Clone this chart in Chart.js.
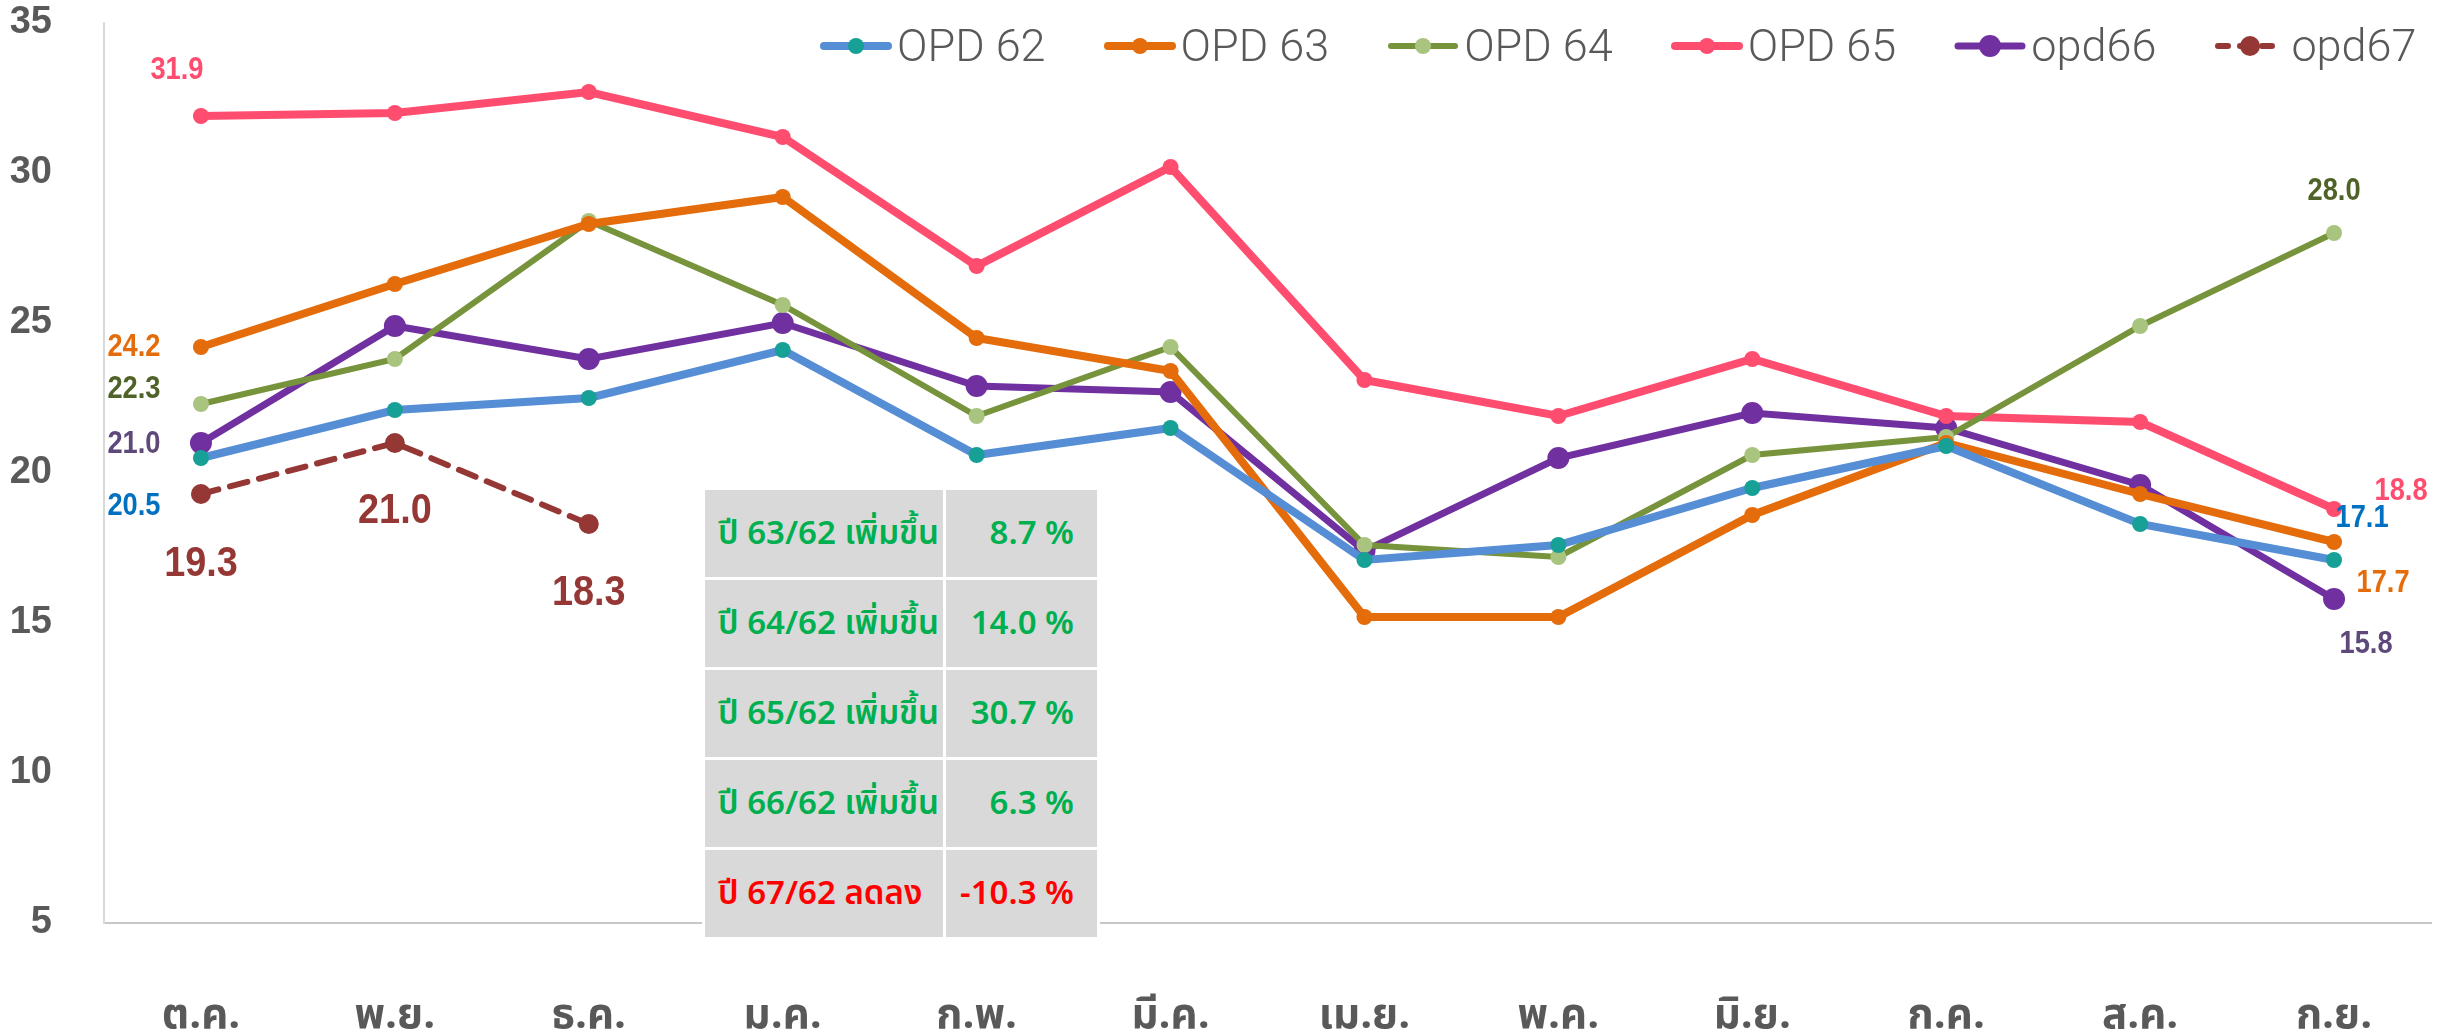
<!DOCTYPE html>
<html>
<head>
<meta charset="utf-8">
<title>OPD</title>
<script src="https://cdn.jsdelivr.net/npm/chart.js@4.4.1/dist/chart.umd.min.js"></script>
<style>
  html, body { margin: 0; padding: 0; background: #fff; }
  #wrap { position: relative; width: 2445px; height: 1031px; overflow: hidden; }
  #chart { display: block; }
  .legend { position: absolute; top: 19px; left: 820px; display: flex; align-items: center; gap: 58px; white-space: nowrap;
            font-family: Roboto, "Liberation Sans", sans-serif; font-weight: 300; font-size: 45px; color: #595959; }
  .legend__item { display: flex; align-items: center; gap: 5px; }
  .rates { position: absolute; left: 702px; top: 487px; border-collapse: separate; border-spacing: 3px; background: #fff;
           font-family: "Noto Sans Thai", "Noto Sans", sans-serif; font-size: 33px; font-weight: 600; white-space: nowrap; }
  .rates td { background: #d9d9d9; height: 87px; padding: 0; }
  .rates td.name { width: 225px; padding-left: 13px; }
  .rates td.pct { width: 128px; padding-right: 23px; text-align: right; }
</style>
</head>
<body>
<div id="wrap">
  <canvas id="chart" width="2445" height="1031"></canvas>
  <div class="legend" id="legend"></div>
  <table class="rates" id="rates"></table>
</div>
<script>
// months (fiscal year order)
const months = ['ต.ค.', 'พ.ย.', 'ธ.ค.', 'ม.ค.', 'ก.พ.', 'มี.ค.', 'เม.ย.', 'พ.ค.', 'มิ.ย.', 'ก.ค.', 'ส.ค.', 'ก.ย.'];

const opd62 = [20.5, 22.1, 22.5, 24.1, 20.6, 21.5, 17.1, 17.6, 19.5, 20.9, 18.3, 17.1];
const opd63 = [24.2, 26.3, 28.3, 29.2, 24.5, 23.4, 15.2, 15.2, 18.6, 21.0, 19.3, 17.7];
const opd64 = [22.3, 23.8, 28.4, 25.6, 21.9, 24.2, 17.6, 17.2, 20.6, 21.2, 24.9, 28.0];
const opd65 = [31.9, 32.0, 32.7, 31.2, 26.9, 30.2, 23.1, 21.9, 23.8, 21.9, 21.7, 18.8];
const opd66 = [21.0, 24.9, 23.8, 25.0, 22.9, 22.7, 17.4, 20.5, 22.0, 21.5, 19.6, 15.8];
const opd67 = [19.3, 21.0, 18.3];

const yTicks = [5, 10, 15, 20, 25, 30, 35];

// comparison box
const rateNames  = ['ปี 63/62 เพิ่มขึ้น', 'ปี 64/62 เพิ่มขึ้น', 'ปี 65/62 เพิ่มขึ้น', 'ปี 66/62 เพิ่มขึ้น', 'ปี 67/62 ลดลง'];
const rateValues = ['8.7 %', '14.0 %', '30.7 %', '6.3 %', '-10.3 %'];
const rateColors = ['#00b050', '#00b050', '#00b050', '#00b050', '#ff0000'];

const NUM_FONT = '"Liberation Sans", Arial, sans-serif';

const series = [
  { label: 'OPD 62', data: opd62, line: '#558ed5', dot: '#17a096', width: 8, r: 8 },
  { label: 'OPD 63', data: opd63, line: '#e46c0a', dot: '#e46c0a', width: 8, r: 8 },
  { label: 'OPD 64', data: opd64, line: '#77933c', dot: '#a9c47f', width: 6, r: 8 },
  { label: 'OPD 65', data: opd65, line: '#ff4d70', dot: '#ff4d70', width: 8, r: 8 },
  { label: 'opd66',  data: opd66, line: '#7030a0', dot: '#7030a0', width: 7, r: 11 },
  { label: 'opd67',  data: opd67, line: '#953735', dot: '#953735', width: 6, r: 10, dash: [18, 12] }
];

// value labels: which point, offset from the point, colour, size
const valueLabels = [
  { s: 3, i: 0,  dx: -24, dy: -46, color: '#ff4d70', size: 31 },
  { s: 1, i: 0,  dx: -67, dy: 0,   color: '#e46c0a', size: 31 },
  { s: 2, i: 0,  dx: -67, dy: -15, color: '#4f6228', size: 31 },
  { s: 4, i: 0,  dx: -67, dy: 1,   color: '#5f497a', size: 31 },
  { s: 0, i: 0,  dx: -67, dy: 48,  color: '#0070c0', size: 31 },
  { s: 5, i: 0,  dx: 0,   dy: 70,  color: '#953735', size: 43 },
  { s: 5, i: 1,  dx: 0,   dy: 68,  color: '#953735', size: 43 },
  { s: 5, i: 2,  dx: 0,   dy: 69,  color: '#953735', size: 43 },
  { s: 2, i: 11, dx: 0,   dy: -42, color: '#4f6228', size: 31 },
  { s: 3, i: 11, dx: 67,  dy: -18, color: '#ff4d70', size: 31 },
  { s: 0, i: 11, dx: 28,  dy: -42, color: '#0070c0', size: 31 },
  { s: 1, i: 11, dx: 49,  dy: 41,  color: '#e46c0a', size: 31 },
  { s: 4, i: 11, dx: 32,  dy: 45,  color: '#5f497a', size: 31 }
];

const labelPlugin = {
  id: 'valueLabels',
  afterDatasetsDraw(chart) {
    const ctx = chart.ctx;
    valueLabels.forEach(l => {
      const pt = chart.getDatasetMeta(l.s).data[l.i];
      const v = chart.data.datasets[l.s].data[l.i];
      ctx.save();
      ctx.translate(pt.x + l.dx, pt.y + l.dy);
      ctx.scale(0.88, 1);  // source font is condensed
      ctx.textAlign = 'center';
      ctx.textBaseline = 'middle';
      ctx.font = 'bold ' + l.size + 'px ' + NUM_FONT;
      ctx.fillStyle = l.color;
      ctx.fillText(v.toFixed(1), 0, 0);
      ctx.restore();
    });
  }
};

const chart = new Chart(document.getElementById('chart'), {
  type: 'line',
  data: {
    labels: months,
    datasets: series.map(s => ({
      label: s.label,
      data: s.data,
      borderColor: s.line,
      backgroundColor: s.dot,
      pointBackgroundColor: s.dot,
      pointBorderColor: s.dot,
      pointBorderWidth: 0,
      pointRadius: s.r,
      borderWidth: s.width,
      borderDash: s.dash || [],
      borderCapStyle: 'round',
      tension: 0,
      fill: false
    }))
  },
  options: {
    responsive: false,
    animation: false,
    layout: { padding: { top: 23, right: 14, left: 0, bottom: 0 } },
    plugins: { legend: { display: false }, tooltip: { enabled: false } },
    scales: {
      x: {
        offset: true,
        grid: { display: false, drawTicks: false },
        border: { display: true, color: '#c8c8c8', width: 2 },
        ticks: { color: '#595959', padding: 71,
                 font: { family: '"Noto Sans Thai", "Noto Sans", sans-serif', size: 42, weight: 'bold' } },
        afterFit: s => { s.height = 108; s.paddingLeft = 0; s.paddingRight = 0; }
      },
      y: {
        min: 5, max: 35,
        afterBuildTicks: s => { s.ticks = yTicks.map(v => ({ value: v })); },
        grid: { display: false, drawTicks: false },
        border: { display: true, color: '#d9d9d9', width: 2 },
        ticks: { color: '#595959', padding: 52,
                 font: { family: NUM_FONT, size: 38, weight: 'bold' } },
        afterFit: s => { s.width = 104; s.paddingTop = 0; s.paddingBottom = 0; }
      }
    }
  },
  plugins: [labelPlugin]
});

// legend
const legendEl = document.getElementById('legend');
series.forEach(s => {
  const item = document.createElement('div');
  item.className = 'legend__item';
  const dash = s.dash ? ' stroke-dasharray="10 12"' : '';
  item.innerHTML =
    '<svg width="72" height="26" viewBox="0 0 72 26">' +
      '<line x1="4" y1="13" x2="68" y2="13" stroke="' + s.line + '" stroke-width="' + s.width + '" stroke-linecap="round"' + dash + '/>' +
      '<circle cx="36" cy="13" r="' + s.r + '" fill="' + s.dot + '"/>' +
    '</svg><span>' + s.label + '</span>';
  legendEl.appendChild(item);
});

// comparison table
const table = document.getElementById('rates');
rateNames.forEach((name, i) => {
  const tr = document.createElement('tr');
  tr.innerHTML = '<td class="name" style="color:' + rateColors[i] + '">' + name + '</td>' +
                 '<td class="pct" style="color:' + rateColors[i] + '">' + rateValues[i] + '</td>';
  table.appendChild(tr);
});
</script>
</body>
</html>
